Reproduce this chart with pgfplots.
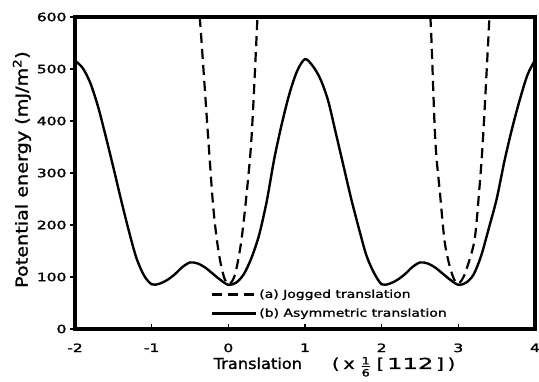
\documentclass[border=0pt]{standalone}
\usepackage{fontspec}
\usepackage{graphicx}
\setmainfont{DejaVu Sans}
\newfontfamily\tickf{DejaVu Sans}[FakeBold=1.6]
\newfontfamily\legfont{DejaVu Sans}[FakeStretch=1.27, FakeBold=1.2]
\newfontfamily\ylabfont{DejaVu Sans}[FakeStretch=1.17, FakeBold=1.4]
\newfontfamily\xlabfont{DejaVu Sans}[FakeStretch=1.08, FakeBold=1.4]
\usepackage{pgfplots}
\pgfplotsset{compat=1.18}
\newcommand{\tl}[1]{\scalebox{1.35}[1]{\tickf\fontsize{11.5}{13}\selectfont #1}}
\newcommand{\wdx}[1]{\scalebox{1.27}[1]{#1}}
\newcommand{\fr}{\raisebox{-7.5pt}{\tickf\fontsize{10}{10}\selectfont\vbox{\offinterlineskip\halign{\hfil##\hfil\cr\wdx{1}\cr\noalign{\kern2pt\hrule height 0.6pt\kern2pt}\wdx{6}\cr}}}}
\begin{document}
\begin{tikzpicture}
\useasboundingbox (-75pt,-52pt) rectangle (464pt,329pt);
\begin{axis}[
  at={(0,0)}, anchor=south west, scale only axis,
  width=460pt, height=312pt,
  xmin=-2, xmax=4, ymin=0, ymax=600,
  xtick={-2,-1,0,1,2,3,4}, ytick={0,100,200,300,400,500,600},
  xticklabels={\tl{-2},\tl{-1},\tl{0},\tl{1},\tl{2},\tl{3},\tl{4}},
  yticklabels={\tl{0},\tl{100},\tl{200},\tl{300},\tl{400},\tl{500},\tl{600}},
  xtick pos=bottom, ytick pos=left,
  xtick align=inside, ytick align=outside,
  major tick length=5pt,
  axis line style={line width=3.2pt},
  every tick/.style={black, line width=1.4pt},
  xticklabel style={yshift=-11pt},
  xlabel={Translation\hspace{30pt}{\legfont(\hspace{4pt}x\hspace{7pt}\fr\hspace{7pt}[\hspace{3pt}\wdx{112}\hspace{3pt}]\hspace{4pt})}},
  xlabel style={font=\xlabfont\fontsize{15}{17}\selectfont, xshift=29.5pt, yshift=2pt},
  ylabel={Potential energy (mJ/m\textsuperscript{2})},
  ylabel style={font=\ylabfont\fontsize{16.4}{18}\selectfont, at={(axis description cs:-0.088,0.511)}, anchor=south},
  legend style={at={(0.295,0.1336)}, anchor=north west, draw=none, fill=none,
    font=\legfont\fontsize{11}{13}\selectfont, inner sep=0pt, row sep=5pt},
  legend cell align=left,
  legend image code/.code={\draw[#1] (0pt,0pt) -- (44pt,0pt);},
  clip=true,
]
\addplot[black, line width=2.2pt, dash pattern=on 10pt off 6pt, smooth] coordinates {
(-0.373,600) (-0.35,554) (-0.30,447) (-0.26,362) (-0.20,240) (-0.15,172) (-0.10,126)
(-0.05,97) (0.0,86) (0.05,92) (0.10,112) (0.17,170) (0.24,262) (0.30,362) (0.35,505) (0.38,600)
};
\addlegendentry{(a) Jogged translation}
\addplot[black, line width=2.4pt, smooth] coordinates {
(-2.0,516) (-1.9,502) (-1.8,473) (-1.7,428) (-1.6,371) (-1.5,311) (-1.4,249) (-1.3,190)
(-1.2,137) (-1.1,103) (-1.0,86) (-0.9,87) (-0.8,94) (-0.7,105) (-0.6,119) (-0.5,128)
(-0.4,126) (-0.3,118) (-0.2,106) (-0.1,94) (0.0,85) (0.1,89) (0.2,105) (0.3,136)
(0.4,180) (0.5,245) (0.6,328) (0.7,396) (0.8,454) (0.9,497) (1.0,519) (1.1,506)
(1.2,481) (1.3,440) (1.4,378) (1.5,315) (1.6,252) (1.7,195) (1.8,142) (1.9,108)
(2.0,86) (2.1,87) (2.2,94) (2.3,105) (2.4,119) (2.5,128) (2.6,126) (2.7,118)
(2.8,106) (2.9,94) (3.0,85) (3.1,89) (3.2,105) (3.3,142) (3.4,195) (3.5,250)
(3.6,322) (3.7,385) (3.8,440) (3.9,488) (4.0,517)
};
\addlegendentry{(b) Asymmetric translation}
\addplot[black, line width=2.2pt, dash pattern=on 10pt off 6pt, smooth, forget plot] coordinates {
(2.635,600) (2.65,554) (2.70,362) (2.76,262) (2.82,170) (2.88,125) (2.94,97) (2.99,87)
(3.04,93) (3.10,112) (3.21,170) (3.27,262) (3.32,362) (3.39,554) (3.405,600)
};
\end{axis}
\end{tikzpicture}
\end{document}
